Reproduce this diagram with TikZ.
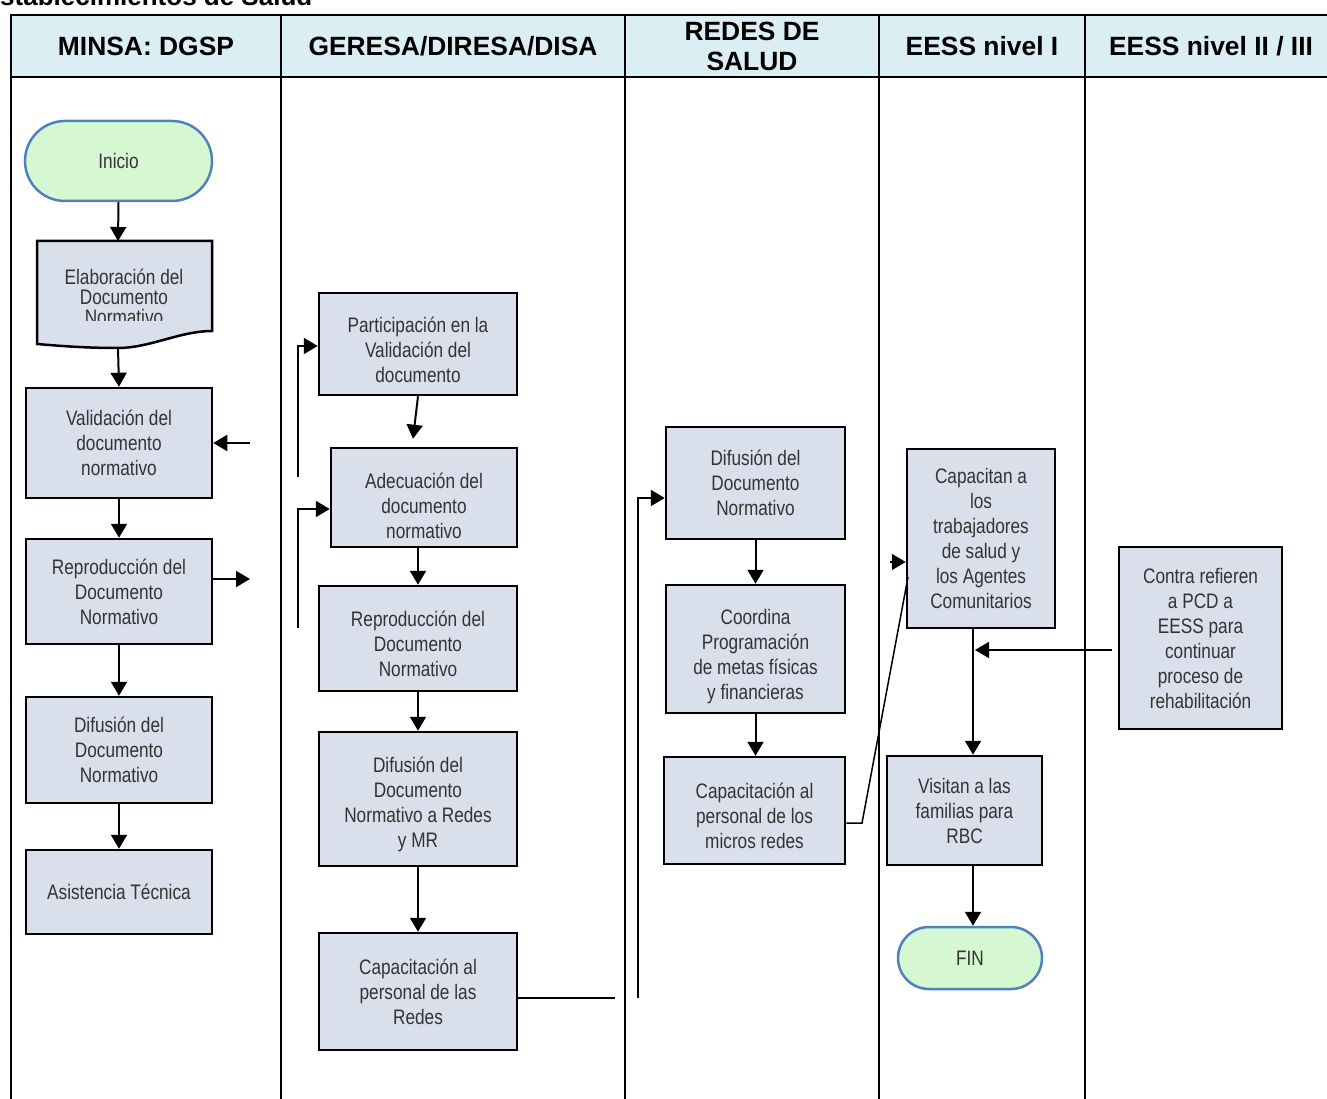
\documentclass[tikz,border=0pt]{standalone}
\usepackage{fontspec}
\setmainfont{Liberation Sans}
\newfontfamily\narrowfont{Liberation Sans}[FakeStretch=0.82]
\usetikzlibrary{arrows.meta,shapes.misc}
\definecolor{headfill}{HTML}{DAEEF3}
\definecolor{boxfill}{HTML}{D9E0EC}
\definecolor{termfill}{HTML}{D5F8D2}
\definecolor{termline}{HTML}{4F81BD}
\definecolor{txt}{HTML}{333333}
\newcommand{\bajar}[1]{\rule{0pt}{#1}}
\begin{document}
\begin{tikzpicture}[x=1pt,y=-1pt,
        proc/.style={draw, line width=2.5pt, fill=boxfill, text=txt, align=center, inner sep=0pt, font=\narrowfont\fontsize{21}{25}\selectfont},
        term/.style={rounded rectangle, draw=termline, line width=2.5pt, fill=termfill, text=txt, inner sep=0pt, font=\narrowfont\fontsize{21}{25}\selectfont},
        head/.style={font=\bfseries\fontsize{26.4}{30}\selectfont, align=center},
        flow/.style={line width=2pt, -{Triangle[width=16pt,length=14pt]}},
        wire/.style={line width=2pt}]
            \useasboundingbox (0,0) rectangle (1327,1099);
            % encabezado de la tabla
            \node[anchor=base west, inner sep=0pt, font=\bfseries\fontsize{26}{30}\selectfont] (titulo) at (0,6) {stablecimientos de Salud};
            \draw[line width=2.5pt, fill=headfill] (11,15) rectangle (1340,77);
            \foreach \x in {11,281,625,879,1085,1340}
                \draw[line width=2.5pt] (\x,15) -- (\x,1110);
            \node[head] (hminsa) at (146,46) {MINSA: DGSP};
            \node[head] (hgeresa) at (453,46) {GERESA/DIRESA/DISA};
            \node[head] (hredes) at (752,46) {REDES DE\\SALUD};
            \node[head] (heessA) at (982,46) {EESS nivel I};
            \node[head] (heessB) at (1211,46) {EESS nivel II / III};

            % MINSA
            \node[term, minimum width=187pt, minimum height=80pt] (inicio) at (118.5,161) {Inicio};
            \draw[line width=2.5pt, fill=boxfill] (37,241) -- (212,241) -- (212,331)
                .. controls (180,331) and (150,348) .. (118,348)
                .. controls (80,348) and (50,345) .. (37,344) -- cycle;
            \begin{scope}
                \clip (37,241) rectangle (212,320);
                \node[text=txt, align=center, font=\narrowfont\fontsize{21}{20}\selectfont] (elab) at (124,297) {Elaboración del\\Documento\\Normativo};
            \end{scope}
            \coordinate (elabN) at (118,241);
            \coordinate (elabS) at (118,348);
            \node[proc, minimum width=186pt, minimum height=110pt] (valida) at (119,443) {Validación del\\documento\\normativo};
            \node[proc, minimum width=186pt, minimum height=105pt] (reprodA) at (119,591.5) {Reproducción del\\Documento\\Normativo};
            \node[proc, minimum width=186pt, minimum height=106pt] (difusA) at (119,750) {Difusión del\\Documento\\Normativo};
            \node[proc, minimum width=186pt, minimum height=84pt] (asist) at (119,892) {Asistencia Técnica};

            % GERESA
            \node[proc, minimum width=198pt, minimum height=102pt] (partic) at (418,344) {\bajar{27.5pt}Participación en la\\Validación del\\documento};
            \node[proc, minimum width=186pt, minimum height=99pt] (adecua) at (424,497.5) {\bajar{33pt}Adecuación del\\documento\\normativo};
            \node[proc, minimum width=198pt, minimum height=105pt] (reprodB) at (418,638.5) {\bajar{25.5pt}Reproducción del\\Documento\\Normativo};
            \node[proc, minimum width=198pt, minimum height=134pt] (difusB) at (418,799) {\bajar{25.5pt}Difusión del\\Documento\\Normativo a Redes\\y MR};
            \node[proc, minimum width=198pt, minimum height=117pt] (capacB) at (418,991.5) {Capacitación al\\personal de las\\Redes};

            % REDES
            \node[proc, minimum width=179pt, minimum height=112pt] (difusC) at (755.5,483) {Difusión del\\Documento\\Normativo};
            \node[proc, minimum width=179pt, minimum height=128pt] (coord) at (755.5,649) {\bajar{31pt}Coordina\\Programación\\de metas físicas\\y financieras};
            \node[proc, minimum width=181pt, minimum height=107pt] (capacC) at (754.5,810.5) {\bajar{25.5pt}Capacitación al\\personal de los\\micros redes};

            % EESS
            \node[proc, minimum width=148pt, minimum height=179pt] (capacitan) at (981,538.5) {Capacitan a\\los\\trabajadores\\de salud y\\los Agentes\\Comunitarios};
            \node[proc, minimum width=155pt, minimum height=109pt] (visitan) at (964.5,810.5) {Visitan a las\\familias para\\RBC};
            \node[term, minimum width=144pt, minimum height=62pt] (fin) at (970,958) {FIN};
            \node[proc, minimum width=163pt, minimum height=182pt] (contra) at (1200.5,638) {Contra refieren\\a PCD a\\EESS para\\continuar\\proceso de\\rehabilitación};

            % conectores
            \coordinate (vIn) at (250,443);
            \coordinate (rOut) at (250,579);
            \coordinate (pFrom) at (298,477);
            \coordinate (aFrom) at (298,628);
            \coordinate (cOut) at (615,998);
            \coordinate (dFrom) at (638,998);
            \coordinate (kA) at (862,823);
            \coordinate (kB) at (908,577);
            \coordinate (kIn) at (890,562);
            \coordinate (cTo) at (975,650);

            \draw[flow] (inicio.south) -- (elabN);
            \draw[flow] (elabS) -- (valida.north);
            \draw[flow] (valida.south) -- (reprodA.north);
            \draw[flow] (reprodA.south) -- (difusA.north);
            \draw[flow] (difusA.south) -- (asist.north);
            \draw[flow] (vIn) -- (valida.east);
            \draw[flow] (reprodA.east |- rOut) -- (rOut);

            \draw[flow] (pFrom) |- (partic.west |- 0,346);
            \draw[flow] (aFrom) |- (adecua.west |- 0,509);
            \draw[flow] (partic.south) -- ([xshift=-11pt,yshift=8pt]adecua.north);
            \draw[flow] (reprodB.north |- adecua.south) -- (reprodB.north);
            \draw[flow] (reprodB.south) -- (difusB.north);
            \draw[flow] (difusB.south) -- (capacB.north);
            \draw[wire] (capacB.east |- cOut) -- (cOut);

            \draw[flow] (dFrom) |- (difusC.west |- 0,498);
            \draw[flow] (difusC.south) -- (coord.north);
            \draw[flow] (coord.south) -- (coord.south |- capacC.north);
            \draw[line width=1.5pt] (capacC.east |- kA) -- (kA) -- (kB);

            \draw[flow] (kIn) -- (capacitan.west |- kIn);
            \draw[flow] ([xshift=-8pt]capacitan.south) -- ([xshift=8.5pt]visitan.north);
            \draw[flow] ([xshift=8.5pt]visitan.south) -- ([xshift=3pt]fin.north);
            \draw[flow] ([xshift=-6pt]contra.west |- cTo) -- (cTo);
\end{tikzpicture}
\end{document}
